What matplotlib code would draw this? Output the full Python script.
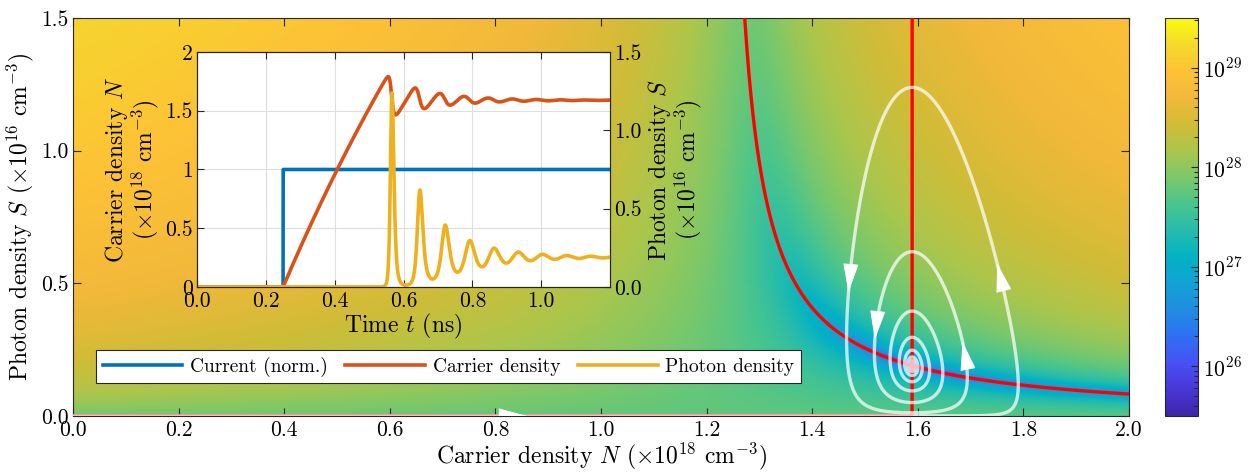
import numpy as np
import matplotlib
matplotlib.use('Agg')
import matplotlib.pyplot as plt
from matplotlib.colors import LinearSegmentedColormap, LogNorm
from matplotlib.patches import FancyArrowPatch
from matplotlib.ticker import LogLocator, NullFormatter

plt.rcParams['font.family'] = 'serif'
plt.rcParams['font.serif'] = ['cmr10']
plt.rcParams['mathtext.fontset'] = 'cm'
plt.rcParams['axes.unicode_minus'] = False
plt.rcParams['axes.formatter.use_mathtext'] = True

# laser rate equation parameters, estimated from the curves in the figure
PUMP = 6.87e27       # cm^-3 s^-1
TAU_N = 1.0e-9       # s, carrier lifetime (slight bend of the ramp)
GAIN = 7.59e-6       # cm^3 s^-1
N_TR = 1.223e18      # cm^-3, transparency density
TAU_P = 1.79e-12     # s, photon lifetime
CONF = 0.201         # confinement factor
BETA = 2.5e-5        # spontaneous emission factor
T_ON = 0.25e-9       # s, current switched on
T_END = 1.2e-9       # s
DT = 0.05e-12        # s

N_UNIT = 1e18
S_UNIT = 1e16

# ticks and ranges
N_TICKS = [0.0, 0.2, 0.4, 0.6, 0.8, 1.0, 1.2, 1.4, 1.6, 1.8, 2.0]
S_TICKS = [0.0, 0.5, 1.0, 1.5]
CBAR_TICKS = [1e26, 1e27, 1e28, 1e29]
CBAR_LABELS = ['$10^{26}$', '$10^{27}$', '$10^{28}$', '$10^{29}$']
CBAR_MIN, CBAR_MAX = 10**25.5, 10**29.5
T_TICKS = [0.0, 0.2, 0.4, 0.6, 0.8, 1.0]
LEFT_TICKS = [0, 0.5, 1, 1.5, 2]
LEFT_LABELS = ['0', '0.5', '1', '1.5', '2']
RIGHT_TICKS = [0.0, 0.5, 1.0, 1.5]

LEGEND_LABELS = ['Current (norm.)', 'Carrier density', 'Photon density']

# direction arrows: (variable, level at the tip, rising?, which crossing)
ARROWS = [('N', 0.86, True, 0), ('S', 0.57, True, 0), ('S', 0.47, False, 0),
          ('S', 0.29, False, 1), ('S', 0.28, True, 1)]

# MATLAB parula, approximate anchors
PARULA = ['#3e26a8', '#4837d8', '#4752f5', '#2f70f3', '#1f8de0', '#12a2d5',
          '#03b2c4', '#26bcab', '#4ac58c', '#7bc86a', '#abc64c', '#d1bc37',
          '#f2b83a', '#fdc236', '#f5d92c', '#f9fb0e']
parula = LinearSegmentedColormap.from_list('parula', PARULA)

C_BLUE = (0.0, 0.447, 0.741)
C_RED = (0.85, 0.325, 0.098)
C_YEL = (0.929, 0.694, 0.125)
C_AX = (0.15, 0.15, 0.15)


def rates(n, s, pump):
    g = GAIN * (n - N_TR)
    dn = pump - n / TAU_N - g * s
    ds = CONF * g * s - s / TAU_P + BETA * n / TAU_N
    return dn, ds


# integrate the rate equations (RK4)
steps = int(round(T_END / DT))
k_on = int(round(T_ON / DT))
t = np.arange(steps + 1) * DT
n = np.zeros(steps + 1)
s = np.zeros(steps + 1)
for k in range(steps):
    p = PUMP if k >= k_on else 0.0
    n0, s0 = n[k], s[k]
    a1, b1 = rates(n0, s0, p)
    a2, b2 = rates(n0 + 0.5 * DT * a1, s0 + 0.5 * DT * b1, p)
    a3, b3 = rates(n0 + 0.5 * DT * a2, s0 + 0.5 * DT * b2, p)
    a4, b4 = rates(n0 + DT * a3, s0 + DT * b3, p)
    n[k + 1] = n0 + DT / 6 * (a1 + 2 * a2 + 2 * a3 + a4)
    s[k + 1] = s0 + DT / 6 * (b1 + 2 * b2 + 2 * b3 + b4)
current = (np.arange(steps + 1) >= k_on).astype(float)

# magnitude of the flow in the (N, S) plane
NN, SS = np.meshgrid(np.linspace(0, 2, 500) * N_UNIT, np.linspace(0, 1.5, 400) * S_UNIT)
dN, dS = rates(NN, SS, PUMP)
speed = np.hypot(dN, dS)

fig = plt.figure(figsize=(12.48, 4.76), dpi=100)
ax = fig.add_axes([0.0585, 0.1261, 0.8462, 0.8361])
im = ax.imshow(speed, extent=[0, 2, 0, 1.5], origin='lower', aspect='auto',
               cmap=parula, norm=LogNorm(CBAR_MIN, CBAR_MAX), interpolation='bilinear')

# nullclines
n_line = np.linspace(N_TR * 1.0001, 2 * N_UNIT, 2000)
s_line = (PUMP - n_line / TAU_N) / (GAIN * (n_line - N_TR))
keep = s_line <= 1.6 * S_UNIT
ax.plot(n_line[keep] / N_UNIT, s_line[keep] / S_UNIT, color='red', lw=2.4, zorder=3)
s_v = np.concatenate([[0.0], np.geomspace(1e7, 1.6 * S_UNIT, 2000)])
n_v = s_v * (1 / TAU_P + CONF * GAIN * N_TR) / (CONF * GAIN * s_v + BETA / TAU_N)
ax.plot(n_v / N_UNIT, s_v / S_UNIT, color='red', lw=2.4, zorder=3)

# trajectory after switch-on
tn = n[k_on:] / N_UNIT
ts = s[k_on:] / S_UNIT
ax.plot(tn, ts, color='white', alpha=0.72, lw=2.4, zorder=4)

ax.set_xlim(0, 2)
ax.set_ylim(0, 1.5)
fig.canvas.draw()
pix = ax.transData.transform(np.column_stack([tn, ts]))
for var, level, rising, occ in ARROWS:
    v = tn if var == 'N' else ts
    if rising:
        idx = np.where((v[:-1] < level) & (v[1:] >= level))[0] + 1
    else:
        idx = np.where((v[:-1] > level) & (v[1:] <= level))[0] + 1
    if len(idx) <= occ:
        continue
    i = idx[occ]
    j = i - 1
    while j > 0 and np.hypot(*(pix[i] - pix[j])) < 14:
        j -= 1
    arr = FancyArrowPatch((tn[j], ts[j]), (tn[i], ts[i]),
                          arrowstyle='-|>,head_length=1.2,head_width=0.32',
                          mutation_scale=16, color='white', lw=0.5,
                          shrinkA=0, shrinkB=0, zorder=5)
    ax.add_patch(arr)

ax.set_xticks(N_TICKS)
ax.set_xticklabels([f'{v:.1f}' for v in N_TICKS])
ax.set_yticks(S_TICKS)
ax.set_yticklabels([f'{v:.1f}' for v in S_TICKS])
ax.tick_params(direction='in', top=True, right=True, length=6, width=0.8,
               labelsize=15.5, colors=C_AX, labelcolor='black', pad=3)
for sp in ax.spines.values():
    sp.set_color(C_AX)
    sp.set_linewidth(0.8)
ax.set_xlabel(r'Carrier density $N$ ($\times 10^{18}$ cm$^{-3}$)', fontsize=17, labelpad=1)
ax.set_ylabel(r'Photon density $S$ ($\times 10^{16}$ cm$^{-3}$)', fontsize=17, labelpad=4)

# colorbar
cax = fig.add_axes([0.9335, 0.1261, 0.0264, 0.8361])
cb = fig.colorbar(im, cax=cax)
cb.set_ticks(CBAR_TICKS)
cb.set_ticklabels(CBAR_LABELS)
cax.yaxis.set_minor_locator(LogLocator(base=10, subs=np.arange(2, 10)))
cax.yaxis.set_minor_formatter(NullFormatter())
cax.tick_params(which='both', direction='in', width=0.8, labelsize=15.5,
                colors=C_AX, labelcolor='black')
cax.tick_params(which='major', length=5)
cax.tick_params(which='minor', length=3)
cb.outline.set_edgecolor(C_AX)
cb.outline.set_linewidth(0.8)

# inset time traces
ax_in = fig.add_axes([0.1579, 0.3971, 0.3309, 0.4937])
ax_in.set_facecolor('white')
ax_r = ax_in.twinx()
tt = t * 1e9
h1, = ax_in.plot(tt, current, color=C_BLUE, lw=2.6)
h2, = ax_in.plot(tt, n / N_UNIT, color=C_RED, lw=2.6)
h3, = ax_r.plot(tt, s / S_UNIT, color=C_YEL, lw=2.6)
ax_in.set_xlim(0, 1.2)
ax_in.set_ylim(0, 2)
ax_r.set_ylim(0, 1.5)
ax_in.set_xticks(T_TICKS)
ax_in.set_xticklabels([f'{v:.1f}' for v in T_TICKS])
ax_in.set_yticks(LEFT_TICKS)
ax_in.set_yticklabels(LEFT_LABELS)
ax_r.set_yticks(RIGHT_TICKS)
ax_r.set_yticklabels([f'{v:.1f}' for v in RIGHT_TICKS])
ax_in.grid(True, color=(0.87, 0.87, 0.87), lw=0.8)
ax_in.set_axisbelow(True)
for a in (ax_in, ax_r):
    a.tick_params(direction='in', length=5, width=0.8, labelsize=15.5,
                  colors=C_AX, labelcolor='black', pad=3)
    for sp in a.spines.values():
        sp.set_color(C_AX)
        sp.set_linewidth(0.8)
ax_in.tick_params(top=True)
ax_in.set_xlabel(r'Time $t$ (ns)', fontsize=17, labelpad=1)
ax_in.set_ylabel('Carrier density $N$\n' + r'($\times 10^{18}$ cm$^{-3}$)',
                 fontsize=17, labelpad=3, linespacing=1.0)
ax_r.set_ylabel('Photon density $S$\n' + r'($\times 10^{16}$ cm$^{-3}$)',
                fontsize=17, labelpad=3, linespacing=1.0, rotation=90)

leg = fig.legend([h1, h2, h3], LEGEND_LABELS, loc='center', ncol=3,
                 bbox_to_anchor=(0.3594, 0.230), fontsize=14, frameon=True,
                 fancybox=False, framealpha=1, edgecolor=C_AX,
                 handlelength=4.1, handletextpad=0.4, columnspacing=0.9,
                 borderpad=0.35)
leg.get_frame().set_linewidth(0.8)

fig.savefig('out.png', dpi=100)
